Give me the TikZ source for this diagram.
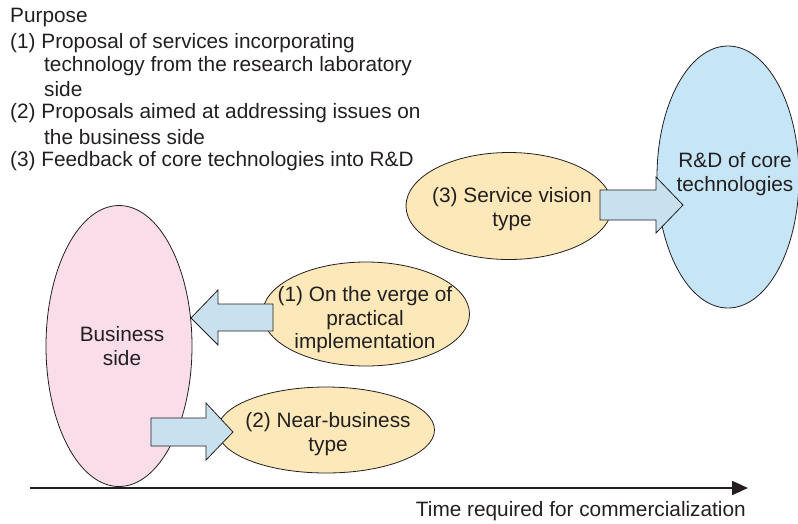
\documentclass[tikz,border=0pt]{standalone}
\usepackage{fontspec}
\setmainfont{Liberation Sans}
\usetikzlibrary{shapes.geometric,arrows.meta}
\definecolor{pinkfill}{HTML}{F9DDE8}
\definecolor{bluefill}{HTML}{C6E6F7}
\definecolor{yellowfill}{HTML}{FCE8B9}
\definecolor{arrowfill}{HTML}{C9E1EF}
\definecolor{ink}{HTML}{231F20}
\tikzset{
  blob/.style={ellipse, draw=ink, line width=0.8pt, inner sep=0pt},
  blobtext/.style={inner sep=0pt, align=center, text=ink, font=\fontsize{20.8}{23.5}\selectfont},
  bluearrow/.style={draw=ink, line width=0.8pt, fill=arrowfill, line join=miter},
  txt/.style={anchor=west, inner sep=0pt, text=ink, font=\fontsize{20.8}{24}\selectfont}
}
\begin{document}
\begin{tikzpicture}[x=1pt,y=-1pt]
\useasboundingbox (0,0) rectangle (798,523);
\begin{scope}
\clip (0,0) rectangle (798,523);
% ellipses
\node[blob, fill=pinkfill, minimum width=146, minimum height=281] (biz) at (119,346) {};
\node[blob, fill=bluefill, minimum width=142, minimum height=262] (rnd) at (728,177) {};
\node[blob, fill=yellowfill, minimum width=206, minimum height=107] (svc) at (509,206) {};
\node[blob, fill=yellowfill, minimum width=207, minimum height=104] (verge) at (366,314) {};
\node[blob, fill=yellowfill, minimum width=217, minimum height=86] (near) at (326,430) {};
\end{scope}
% ellipse captions
\node[blobtext] (biztext) at (122,346) {Business\\side};
\node[blobtext] (rndtext) at (735,174) {R\&D of core\\technologies};
\node[blobtext] (svctext) at (512,209) {(3) Service vision\\type};
\node[blobtext] (vergetext) at (365,320) {(1) On the verge of\\practical\\implementation};
\node[blobtext] (neartext) at (328,434) {(2) Near-business\\type};
% block arrows
\draw[bluearrow] (600,190) -- (656,190) -- (656,177) -- (683,205) -- (656,233) -- (656,220) -- (600,220) -- cycle;
\draw[bluearrow] (273,304) -- (218,304) -- (218,290) -- (191,318) -- (218,345) -- (218,331) -- (273,331) -- cycle;
\draw[bluearrow] (151,418) -- (206,418) -- (206,403) -- (233,432) -- (206,460) -- (206,446) -- (151,446) -- cycle;
% purpose list
\node[txt] (p0) at (10,17) {Purpose};
\node[txt] (p1) at (10,43) {(1) Proposal of services incorporating};
\node[txt] (p1b) at (44,66) {technology from the research laboratory};
\node[txt] (p1c) at (44,89) {side};
\node[txt] (p2) at (10,113) {(2) Proposals aimed at addressing issues on};
\node[txt] (p2b) at (44,137) {the business side};
\node[txt] (p3) at (10,161) {(3) Feedback of core technologies into R\&D};
% time axis
\coordinate (t0) at (30,488);
\coordinate (t1) at (748,488);
\draw[ink, line width=2.2pt, -{Triangle[length=16pt,width=14pt]}] (t0) -- (t1);
\node[txt, anchor=east] (tlabel) at (746,511) {Time required for commercialization};
\end{tikzpicture}
\end{document}
